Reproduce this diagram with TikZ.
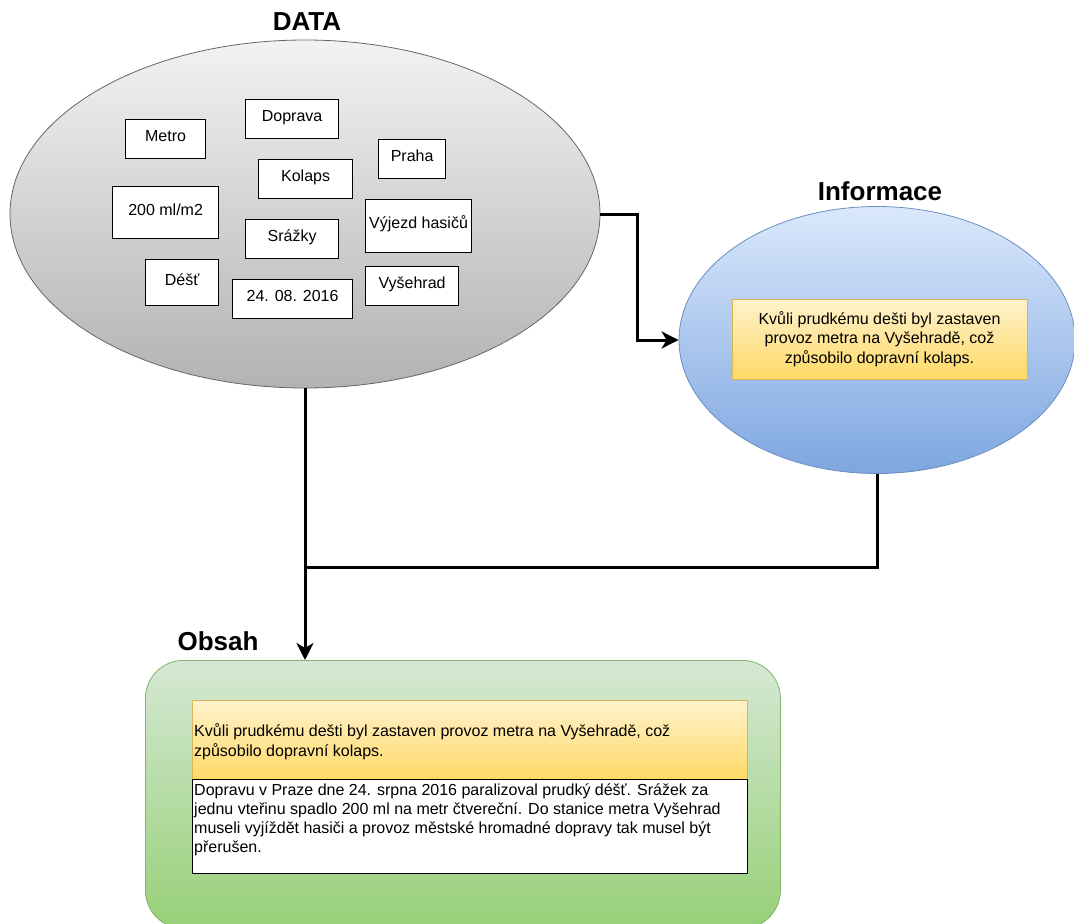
\documentclass[tikz,border=0pt]{standalone}
\usepackage{fontspec}
\setmainfont{Liberation Sans}
\usetikzlibrary{shapes.geometric,arrows.meta}

\definecolor{greyedge}{HTML}{666666}
\definecolor{bluetop}{HTML}{DAE8FC}
\definecolor{bluebot}{HTML}{7EA6E0}
\definecolor{blueedge}{HTML}{6C8EBF}
\definecolor{yeltop}{HTML}{FFF2CC}
\definecolor{yelbot}{HTML}{FFD966}
\definecolor{yeledge}{HTML}{D6B656}
\definecolor{greentop}{HTML}{D5E8D4}
\definecolor{greenbot}{HTML}{97D077}
\definecolor{greenedge}{HTML}{82B366}

\begin{document}
\begin{tikzpicture}[x=1pt,y=-1pt,
  kw/.style={draw=black,line width=1.2pt,fill=white,inner sep=0pt,anchor=north west,
    text height=12pt,text depth=6.4pt,font=\fontsize{16}{19}\selectfont},
  heading/.style={font=\fontsize{26}{30}\selectfont\bfseries},
  conn/.style={line width=3pt,black},
  tip/.style={-{Stealth[length=17pt,width=17pt,inset=5pt]}}]
  \useasboundingbox (0,0) rectangle (1074,924);

  % DATA
  \node[ellipse,draw=greyedge,line width=0.8pt,top color=white!95!black,bottom color=black!30,
    minimum width=590pt,minimum height=348pt,inner sep=0pt] (data) at (305,214) {};
  \node[heading] (datatitle) at (307,22) {DATA};

  \node[kw,minimum width=80pt,minimum height=39pt] (metro) at (125,119) {Metro};
  \node[kw,minimum width=93pt,minimum height=39pt] (doprava) at (245,99) {Doprava};
  \node[kw,minimum width=67pt,minimum height=39pt] (praha) at (378,139) {Praha};
  \node[kw,minimum width=94pt,minimum height=39pt] (kolaps) at (258,159) {Kolaps};
  \node[kw,minimum width=106pt,minimum height=52pt] (hustota) at (112,186) {200 ml/m2};
  \node[kw,minimum width=106pt,minimum height=53pt] (hasici) at (365,199) {Výjezd hasičů};
  \node[kw,minimum width=93pt,minimum height=39pt] (srazky) at (245,219) {Srážky};
  \node[kw,minimum width=73pt,minimum height=46pt] (dest) at (145,259) {Déšť};
  \node[kw,minimum width=120pt,minimum height=39pt] (datum) at (232,279) {24. 08. 2016};
  \node[kw,minimum width=93pt,minimum height=39pt] (vysehrad) at (365,266) {Vyšehrad};

  % Informace
  \node[ellipse,draw=blueedge,line width=0.8pt,top color=bluetop,bottom color=bluebot,
    minimum width=396pt,minimum height=267pt,inner sep=0pt] (info) at (877,340) {};
  \node[heading] (infotitle) at (880,191) {Informace};
  \node[draw=yeledge,line width=0.8pt,top color=yeltop,bottom color=yelbot,
    minimum width=295pt,minimum height=80pt,align=center,
    font=\fontsize{16}{19.5}\selectfont] (infotext) at (879.5,339)
    {Kvůli prudkému dešti byl zastaven\\provoz metra na Vyšehradě, což\\způsobilo dopravní kolaps.};

  % Obsah
  \node[draw=greenedge,line width=0.8pt,top color=greentop,bottom color=greenbot,rounded corners=38pt,
    minimum width=635pt,minimum height=268pt,anchor=north west] (obsah) at (145,660) {};
  \node[heading] (obsahtitle) at (218,641) {Obsah};
  \node[draw=yeledge,line width=0.8pt,top color=yeltop,bottom color=yelbot,
    minimum width=555pt,minimum height=79pt,anchor=north west] (souhrn) at (192,700) {};
  \node[anchor=west,align=left,inner sep=0pt,font=\fontsize{16}{20}\selectfont] (souhrntext)
    at ([xshift=2pt,yshift=-2pt]souhrn.west)
    {Kvůli prudkému dešti byl zastaven provoz metra na Vyšehradě, což\\způsobilo dopravní kolaps.};
  \node[draw=black,line width=1.2pt,fill=white,
    minimum width=555pt,minimum height=94pt,anchor=north west] (clanek) at (192,779) {};
  \node[anchor=north west,align=left,inner sep=0pt,font=\fontsize{16}{19}\selectfont] (clanektext)
    at ([xshift=2pt,yshift=-5pt]clanek.north west)
    {Dopravu v Praze dne 24. srpna 2016 paralizoval prudký déšť. Srážek za\\
     jednu vteřinu spadlo 200 ml na metr čtvereční. Do stanice metra Vyšehrad\\
     museli vyjíždět hasiči a provoz městské hromadné dopravy tak musel být\\
     přerušen.};

  % spojnice
  \coordinate (join) at (305,567);
  \draw[conn,tip] (data.east) -- ([xshift=37pt]data.east) |- (info.west);
  \draw[conn] (info.south) |- (join);
  \draw[conn,tip] (data.south) -- (data.south |- obsah.north);
\end{tikzpicture}
\end{document}
